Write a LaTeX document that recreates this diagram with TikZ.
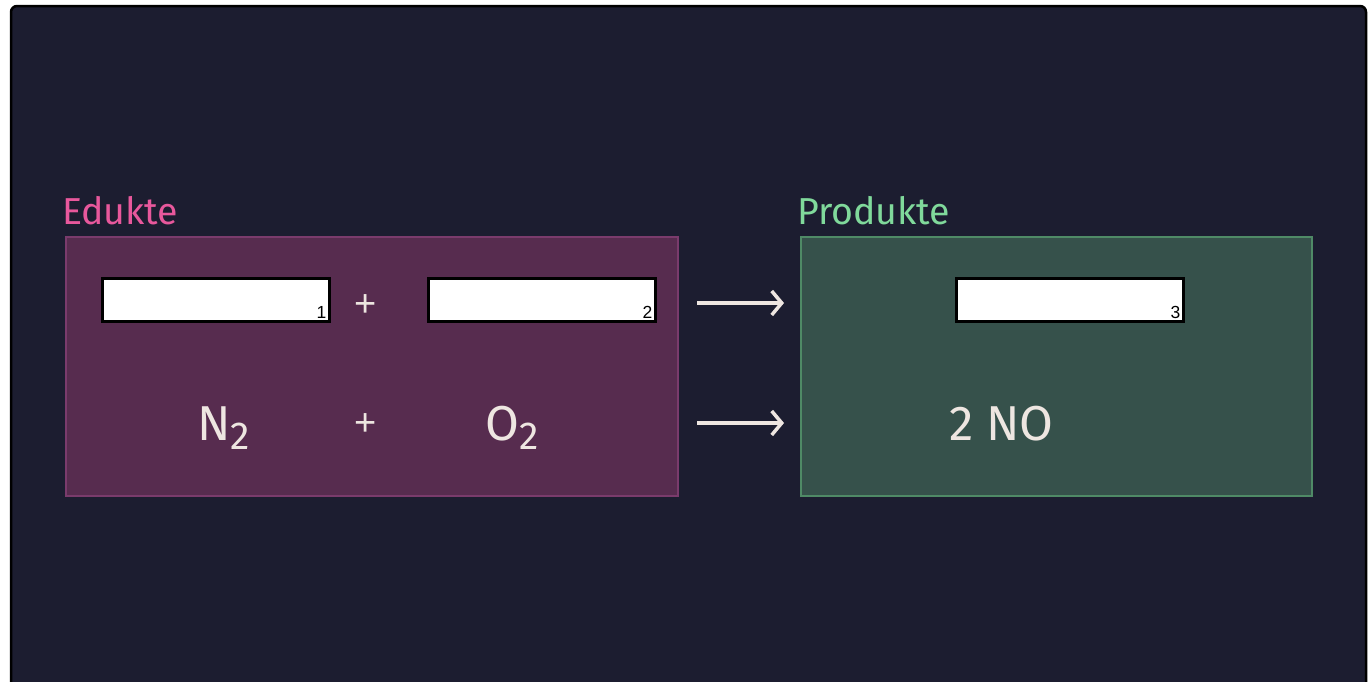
\documentclass[tikz,border=0pt]{standalone}
\usepackage{fontspec}
\setmainfont{Fira Sans}
\newfontfamily\numfont{Liberation Sans}
\usetikzlibrary{positioning,arrows.meta}
\definecolor{panelbg}{HTML}{1C1D30}
\definecolor{edfill}{HTML}{572C4F}
\definecolor{eddraw}{HTML}{7A3B6C}
\definecolor{prfill}{HTML}{36514B}
\definecolor{prdraw}{HTML}{4F8A66}
\definecolor{edlabel}{HTML}{E8589C}
\definecolor{prlabel}{HTML}{80D99B}
\definecolor{chalk}{HTML}{EEE6E1}
\tikzset{
  sidebox/.style={inner sep=0pt, minimum width=#1, minimum height=259pt, line width=2.5pt},
  blank/.style={draw=black, fill=white, line width=3pt, inner sep=0pt,
    minimum width=227pt, minimum height=43pt},
  blanknum/.style={font=\numfont\fontsize{17.5}{17.5}\selectfont, text=black,
    inner sep=4pt, anchor=south east},
  sidelabel/.style={anchor=base west, inner sep=0pt, font=\fontsize{37.5}{37.5}\selectfont},
  formula/.style={anchor=base west, inner sep=0pt, text=chalk,
    font=\fontsize{49}{49}\selectfont},
  plus/.style={text=chalk, inner sep=0pt, font=\numfont\fontsize{38}{38}\selectfont},
  reacts/.style={draw=chalk, line width=3.5pt, -{Straight Barb[length=10pt,width=24pt]}}
}
\newcommand{\sub}[1]{{\fontsize{39}{39}\selectfont\raisebox{-9pt}{#1}}}
\begin{document}
\begin{tikzpicture}[x=1pt,y=-1pt]
  \useasboundingbox (0,0) rectangle (1372,681);
  \fill[white] (0,0) rectangle (1372,681);
  \draw[black, line width=2.5pt, fill=panelbg, rounded corners=6pt] (11,6) rectangle (1366,720);

  % reactant and product areas
  \node[sidebox=612pt, fill=edfill, draw=eddraw] (edukte) at (372,366.5) {};
  \node[sidebox=511pt, fill=prfill, draw=prdraw] (produkte) at (1056.5,366.5) {};
  \node[sidelabel, text=edlabel] (edlab) at (62,224) {Edukte};
  \node[sidelabel, text=prlabel] (prlab) at (797,224) {Produkte};

  % answer fields
  \node[blank] (field1) at (215.5,299.5) {};
  \node[blank] (field2) at (541.5,299.5) {};
  \node[blank] (field3) at (1069.5,299.5) {};
  \node[blanknum] at (field1.south east) {1};
  \node[blanknum] at (field2.south east) {2};
  \node[blanknum] at (field3.south east) {3};
  \node[plus] (plus1) at (365.5,306) {+};

  % equation
  \node[formula] (nitro) at (197,440) {N\sub{2}};
  \node[plus] (plus2) at (365.5,425) {+};
  \node[formula] (oxy) at (485,440) {O\sub{2}};
  \node[formula] (nomono) at (949,440) {2 NO};

  \coordinate (arr1s) at (697,303);
  \coordinate (arr1e) at (784,303);
  \coordinate (arr2s) at (697,423);
  \coordinate (arr2e) at (784,423);
  \draw[reacts] (arr1s) -- (arr1e);
  \draw[reacts] (arr2s) -- (arr2e);
\end{tikzpicture}
\end{document}
